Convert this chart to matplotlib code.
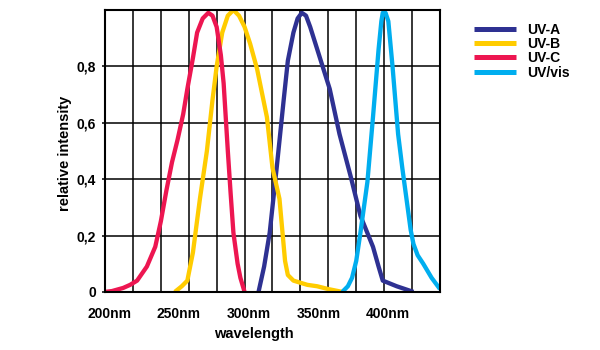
import matplotlib.pyplot as plt
from matplotlib.ticker import FuncFormatter
from matplotlib.transforms import ScaledTranslation

plt.rcParams['font.family'] = ['Liberation Sans', 'DejaVu Sans']
plt.rcParams['font.weight'] = 'bold'

# wavelength (nm) / relative intensity
uva_nm = [310, 314, 318, 323, 328, 331, 335, 338, 341, 344, 347, 354, 361, 368, 376, 383, 392, 396, 399, 404, 409, 421]
uva_val = [0, 0.09, 0.21, 0.44, 0.68, 0.82, 0.92, 0.97, 0.99, 0.98, 0.94, 0.83, 0.72, 0.56, 0.41, 0.27, 0.16, 0.09, 0.04, 0.03, 0.02, 0]

uvb_nm = [250, 255, 259, 263, 268, 273, 277, 280, 284, 288, 292, 296, 300, 304, 309, 316, 320, 325, 329, 331, 335, 345, 352, 360, 370]
uvb_val = [0, 0.02, 0.04, 0.14, 0.33, 0.50, 0.68, 0.80, 0.92, 0.98, 1.0, 0.98, 0.94, 0.88, 0.79, 0.62, 0.44, 0.33, 0.11, 0.06, 0.04, 0.025, 0.02, 0.01, 0]

uvc_nm = [200, 205, 213, 218, 223, 230, 236, 240, 244, 248, 252, 256, 259, 263, 266, 270, 274, 277, 280, 283, 285, 288, 290, 292, 295, 297, 300]
uvc_val = [0, 0.003, 0.014, 0.025, 0.04, 0.09, 0.16, 0.25, 0.36, 0.46, 0.54, 0.63, 0.72, 0.83, 0.92, 0.97, 0.99, 0.98, 0.94, 0.84, 0.74, 0.50, 0.35, 0.21, 0.10, 0.05, 0]

uvvis_nm = [370, 374, 377, 380, 383, 388, 392, 396, 398, 399, 401, 403, 406, 410, 413, 416, 419, 421, 424, 428, 434, 440]
uvvis_val = [0, 0.02, 0.05, 0.11, 0.21, 0.39, 0.62, 0.86, 0.96, 0.99, 0.99, 0.96, 0.80, 0.56, 0.44, 0.33, 0.22, 0.17, 0.13, 0.10, 0.05, 0.01]

series = [
    ("UV-A", uva_nm, uva_val, "#2e3192"),
    ("UV-B", uvb_nm, uvb_val, "#ffcc00"),
    ("UV-C", uvc_nm, uvc_val, "#ed1651"),
    ("UV/vis", uvvis_nm, uvvis_val, "#00aeef"),
]

fig = plt.figure(figsize=(6, 3.5), dpi=100)
ax = fig.add_axes([0.175, 0.166, 0.5583, 0.8054])

for name, xs, ys, col in series:
    ax.plot(xs, ys, color=col, lw=3.1, label=name, solid_capstyle='butt')

ax.set_xlim(200, 440)
ax.set_ylim(0, 1)
ax.xaxis.remove_overlapping_locs = False
ax.yaxis.remove_overlapping_locs = False
ax.set_xticks(range(200, 401, 50))
ax.set_xticks(range(200, 441, 20), minor=True)
ax.set_yticks([0, 0.2, 0.4, 0.6, 0.8])
ax.xaxis.set_major_formatter(FuncFormatter(lambda v, p: f"{int(v)}nm"))
ax.yaxis.set_major_formatter(FuncFormatter(lambda v, p: "0" if v == 0 else f"{v:.1f}".replace(".", ",")))
ax.grid(axis='x', which='minor', color='black', lw=1.1)
ax.grid(axis='y', which='major', color='black', lw=1.1)
ax.tick_params(which='both', length=0)
ax.tick_params(axis='y', which='major', length=2.5, width=1.1, pad=4)
ax.tick_params(axis='x', pad=11, labelsize=10)
ax.tick_params(axis='y', labelsize=10)
for lbl in ax.get_xticklabels():
    lbl.set_transform(lbl.get_transform() + ScaledTranslation(4 / 100, 0, fig.dpi_scale_trans))
for s in ax.spines.values():
    s.set_linewidth(1.5)
ax.set_axisbelow(True)

ax.set_xlabel("wavelength", fontsize=10.5, fontweight='bold')
ax.xaxis.set_label_coords(0.445, -0.125)
ax.set_ylabel("relative intensity", fontsize=10.5, fontweight='bold')
ax.yaxis.set_label_coords(-0.1, 0.49)

fig.legend(loc='upper left', bbox_to_anchor=(0.79, 0.935), frameon=False,
           fontsize=10, handlelength=3.0, handletextpad=0.8, labelspacing=0.02,
           borderpad=0, borderaxespad=0)
for line in fig.legends[0].get_lines():
    line.set_linewidth(3.6)

fig.savefig("out.png", dpi=100)
